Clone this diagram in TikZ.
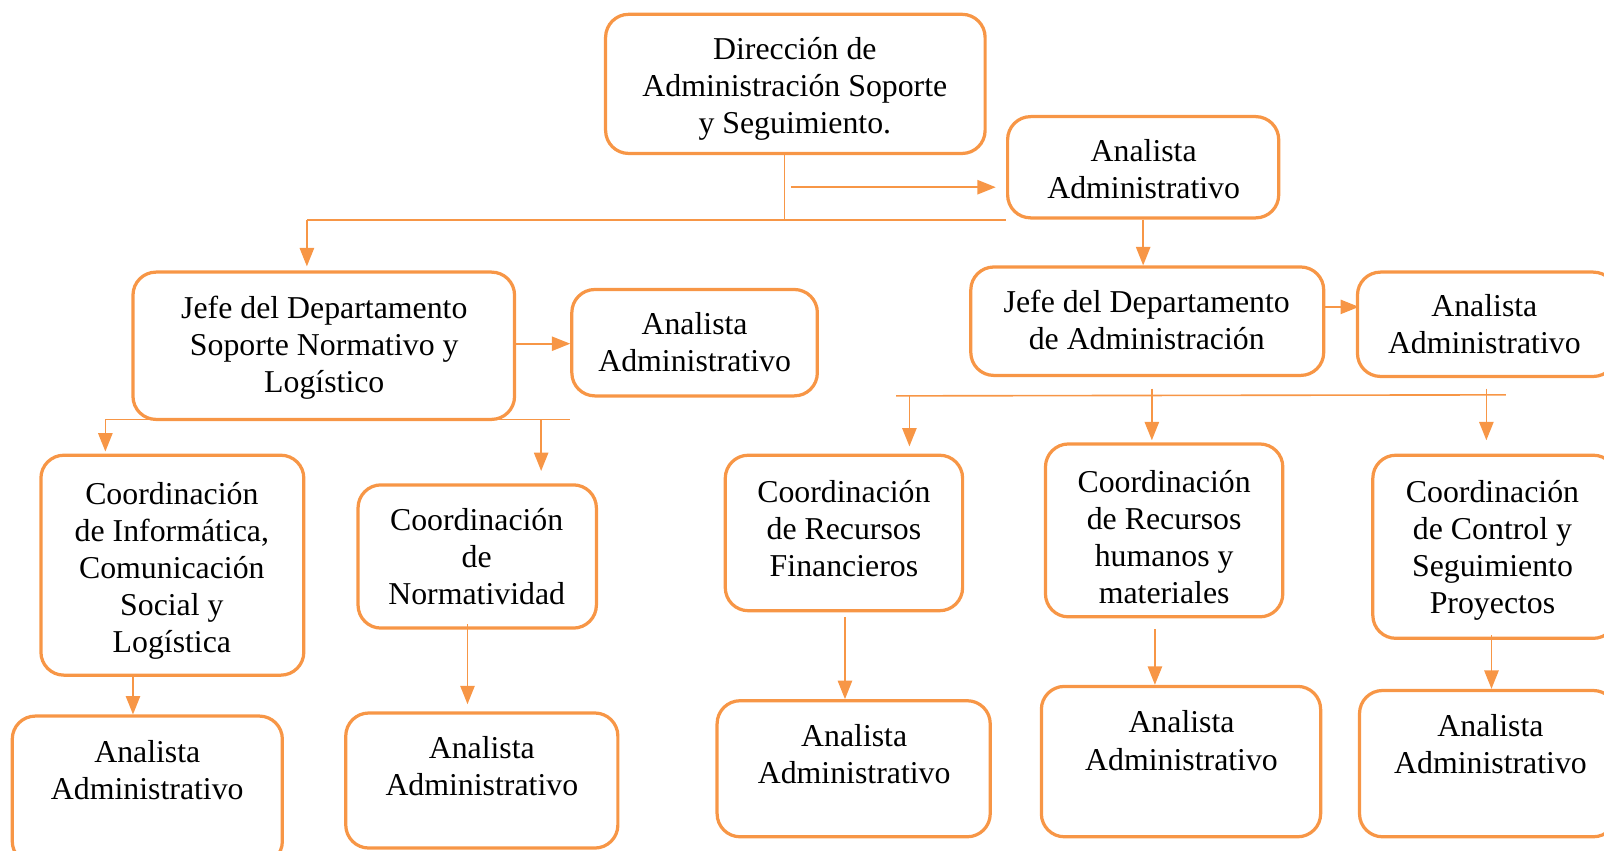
\documentclass[tikz,border=0pt]{standalone}
\usepackage{fontspec}
\setmainfont{Liberation Serif}
\usetikzlibrary{arrows.meta,fit}
\definecolor{orangeline}{HTML}{F79646}
\begin{document}
\begin{tikzpicture}[x=0.02cm,y=-0.02cm,
  box/.style={draw=orangeline,line width=1.8pt,rounded corners=0.45cm,inner sep=0pt},
  txt/.style={align=center,inner sep=0pt,font=\fontsize{17.7}{20.6}\selectfont},
  link/.style={draw=orangeline,line width=0.9pt},
  arrow/.style={link,-{Triangle[width=0.28cm,length=0.36cm]}}]
  \useasboundingbox (0,0) rectangle (1568,831);
  % direction
  \node[box,fit={(592,14)(963,150)}] (dir) {};
  \node[txt] (dirT) at (777,87){Dirección de\\Administración Soporte\\y Seguimiento.};
  \node[box,fit={(985,114)(1250,213)}] (an0) {};
  \node[txt] (an0T) at (1118,165){Analista\\Administrativo};
  % departments
  \node[box,fit={(130,266)(503,410)}] (jefeS) {};
  \node[txt] (jefeST) at (317,340){Jefe del Departamento\\Soporte Normativo y\\Logístico};
  \node[box,fit={(559,283)(799,387)}] (anS) {};
  \node[txt] (anST) at (679,334){Analista\\Administrativo};
  \node[box,fit={(949,261)(1294,367)}] (jefeA) {};
  \node[txt] (jefeAT) at (1121,313){Jefe del Departamento\\de Administración};
  \node[box,fit={(1327,266)(1580,368)}] (anA) {};
  \node[txt] (anAT) at (1451,317){Analista\\Administrativo};
  % coordinations
  \node[box,fit={(40,445)(297,660)}] (coI) {};
  \node[txt] (coIT) at (168,558){Coordinación\\de Informática,\\Comunicación\\Social y\\Logística};
  \node[box,fit={(350,474)(583,614)}] (coN) {};
  \node[txt] (coNT) at (466,544){Coordinación\\de\\Normatividad};
  \node[box,fit={(709,445)(941,597)}] (coF) {};
  \node[txt] (coFT) at (825,517){Coordinación\\de Recursos\\Financieros};
  \node[box,fit={(1022,434)(1254,603)}] (coH) {};
  \node[txt] (coHT) at (1138,525){Coordinación\\de Recursos\\humanos y\\materiales};
  \node[box,fit={(1342,445)(1580,624)}] (coC) {};
  \node[txt] (coCT) at (1459,538){Coordinación\\de Control y\\Seguimiento\\Proyectos};
  % analysts
  \node[box,fit={(12,700)(276,845)}] (anI) {};
  \node[txt] (anIT) at (144,753){Analista\\Administrativo};
  \node[box,fit={(338,697)(604,829)}] (anN) {};
  \node[txt] (anNT) at (471,749){Analista\\Administrativo};
  \node[box,fit={(701,685)(968,818)}] (anF) {};
  \node[txt] (anFT) at (835,737){Analista\\Administrativo};
  \node[box,fit={(1018,671)(1291,818)}] (anH) {};
  \node[txt] (anHT) at (1155,724){Analista\\Administrativo};
  \node[box,fit={(1329,675)(1580,818)}] (anC) {};
  \node[txt] (anCT) at (1457,727){Analista\\Administrativo};
  % top links
  \coordinate (topbus) at (767,215);
  \coordinate (busL) at (300,215);
  \coordinate (side0) at (773,183);
  \draw[link] (dir.south -| topbus) -- (topbus);
  \draw[link] (busL) -- (an0.south west |- busL);
  \draw[arrow,shorten >=0.08cm] (busL) -- (jefeS.north -| busL);
  \draw[arrow,shorten >=0.2cm] (side0) -- (an0.west |- side0);
  \draw[arrow] (an0.south) -- (an0.south |- jefeA.north);
  % left links
  \coordinate (sideS) at (503,336);
  \coordinate (busS) at (103,410);
  \coordinate (dropN) at (529,410);
  \coordinate (dropI) at (130,660);
  \coordinate (dropN2) at (457,610);
  \draw[arrow] (sideS) -- (anS.west |- sideS);
  \draw[link] (busS) -- (anS.west |- busS);
  \draw[arrow,shorten >=0.04cm] (busS) -- (coI.north -| busS);
  \draw[arrow,shorten >=0.24cm] (dropN) -- (coN.north -| dropN);
  \draw[arrow] (dropI) -- (anI.north -| dropI);
  \draw[arrow,shorten >=0.14cm] (dropN2) -- (anN.north -| dropN2);
  % right links
  \coordinate (sideA) at (1294,300);
  \coordinate (busA) at (876,387);
  \coordinate (busAend) at (1472,386);
  \coordinate (dropF) at (889,387);
  \coordinate (dropH) at (1126,380);
  \coordinate (dropC) at (1453,380);
  \draw[arrow,shorten >=-0.06cm] (sideA) -- (anA.west |- sideA);
  \draw[link] (busA) -- (busAend);
  \draw[arrow,shorten >=0.14cm] (dropF) -- (coF.north -| dropF);
  \draw[arrow,shorten >=0.04cm] (dropH) -- (coH.north -| dropH);
  \draw[arrow,shorten >=0.26cm] (dropC) -- (coC.north -| dropC);
  % bottom links
  \coordinate (dropF2) at (826,603);
  \coordinate (dropH2) at (1129,615);
  \coordinate (dropC2) at (1458,621);
  \draw[arrow] (dropF2) -- (anF.north -| dropF2);
  \draw[arrow] (dropH2) -- (anH.north -| dropH2);
  \draw[arrow] (dropC2) -- (anC.north -| dropC2);
\end{tikzpicture}
\end{document}
